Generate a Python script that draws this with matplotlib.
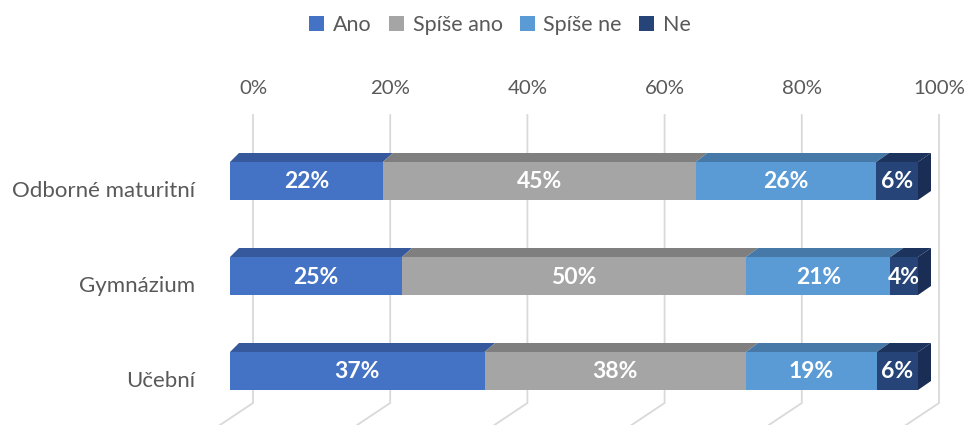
import numpy as np
import matplotlib
matplotlib.use("Agg")
import matplotlib.pyplot as plt
from matplotlib.patches import Polygon, Patch

plt.rcParams['font.family'] = ['Lato', 'DejaVu Sans']

# ---- data ----
categories = ["Odborné maturitní", "Gymnázium", "Učební"]
series_names = ["Ano", "Spíše ano", "Spíše ne", "Ne"]
ano = [22, 25, 37]
spise_ano = [45, 50, 38]
spise_ne = [26, 21, 19]
ne = [6, 4, 6]
tick_values = [0, 20, 40, 60, 80, 100]
tick_labels = ["0%", "20%", "40%", "60%", "80%", "100%"]

front_colors = ["#4472C4", "#A5A5A5", "#5B9BD5", "#264478"]
top_colors = ["#35599C", "#7F7F7F", "#4679A8", "#1C335E"]
side_color = "#1A2D55"
text_gray = "#595959"
grid_color = "#D9D9D9"

W, H = 971, 425
fig = plt.figure(figsize=(W / 100, H / 100), dpi=100)
fig.patch.set_facecolor("white")

# axes: x 0..100 maps to front face 230..918 px
x0_px, x1_px = 230, 918
ax = fig.add_axes([x0_px / W, 0, (x1_px - x0_px) / W, 1])
PX = 100 / (x1_px - x0_px)      # data units per pixel (x)
row0_px, row_step_px = 181, 95
PY = 1 / row_step_px           # data units per pixel (y)


def ypx(p):
    return (p - row0_px) * PY


ax.set_xlim(0, 100)
ax.set_ylim(ypx(H), ypx(0))
ax.set_axis_off()

# ---- back wall gridlines + floor ----
for v, lab in zip(tick_values, tick_labels):
    xb = v + (23 - 0.02 * v) * PX
    ax.plot([xb, xb, xb - 33 * PX], [ypx(115), ypx(403), ypx(425)],
            color=grid_color, lw=1.3, zorder=1, clip_on=False,
            solid_joinstyle="miter")
    ax.text(xb, ypx(88), lab, ha="center", va="center", fontsize=14.7,
            color=text_gray, clip_on=False)

# ---- bars ----
data = np.array([ano, spise_ano, spise_ne, ne], dtype=float)
data_norm = data / data.sum(axis=0) * 100
ypos = np.arange(len(categories))
h = 38 * PY
depth_y = 9 * PY


def dx(v):
    return (9 + 4 * v / 100) * PX


left = np.zeros(len(categories))
for si in range(len(series_names)):
    vals = data_norm[si]
    ax.barh(ypos, vals, left=left, height=h, color=front_colors[si],
            zorder=3, label=series_names[si], linewidth=0)
    for ri in range(len(categories)):
        l, w = left[ri], vals[ri]
        yt = ypos[ri] - h / 2
        yb = ypos[ri] + h / 2
        top = Polygon([(l, yt), (l + w, yt), (l + w + dx(l + w), yt - depth_y),
                       (l + dx(l), yt - depth_y)], closed=True,
                      facecolor=top_colors[si], edgecolor="none", zorder=2.5,
                      clip_on=False)
        ax.add_patch(top)
        if si == len(series_names) - 1:
            r = l + w
            side = Polygon([(r, yt), (r + dx(r), yt - depth_y),
                            (r + dx(r), yb - depth_y), (r, yb)], closed=True,
                           facecolor=side_color, edgecolor="none", zorder=2.5,
                           clip_on=False)
            ax.add_patch(side)
        ax.text(l + w / 2, ypos[ri] + 1 * PY, f"{int(data[si, ri])}%",
                ha="center", va="center", color="white", fontsize=16.5,
                fontweight="bold", zorder=5)
    left = left + vals

# ---- category labels ----
for ri, cat in enumerate(categories):
    ax.text((195 - x0_px) * PX, ypos[ri] + 10 * PY, cat, ha="right",
            va="center", fontsize=16, color=text_gray, clip_on=False)

# ---- legend ----
handles = [Patch(facecolor=c, edgecolor="none") for c in front_colors]
fig.legend(handles, series_names, loc="center", ncol=4,
           bbox_to_anchor=(500 / W, 1 - 25 / H), frameon=False,
           fontsize=15.5, labelcolor=text_gray, handlelength=0.7,
           handleheight=0.7, handletextpad=0.4, columnspacing=0.8)

fig.savefig("out.png", dpi=100, facecolor="white")
